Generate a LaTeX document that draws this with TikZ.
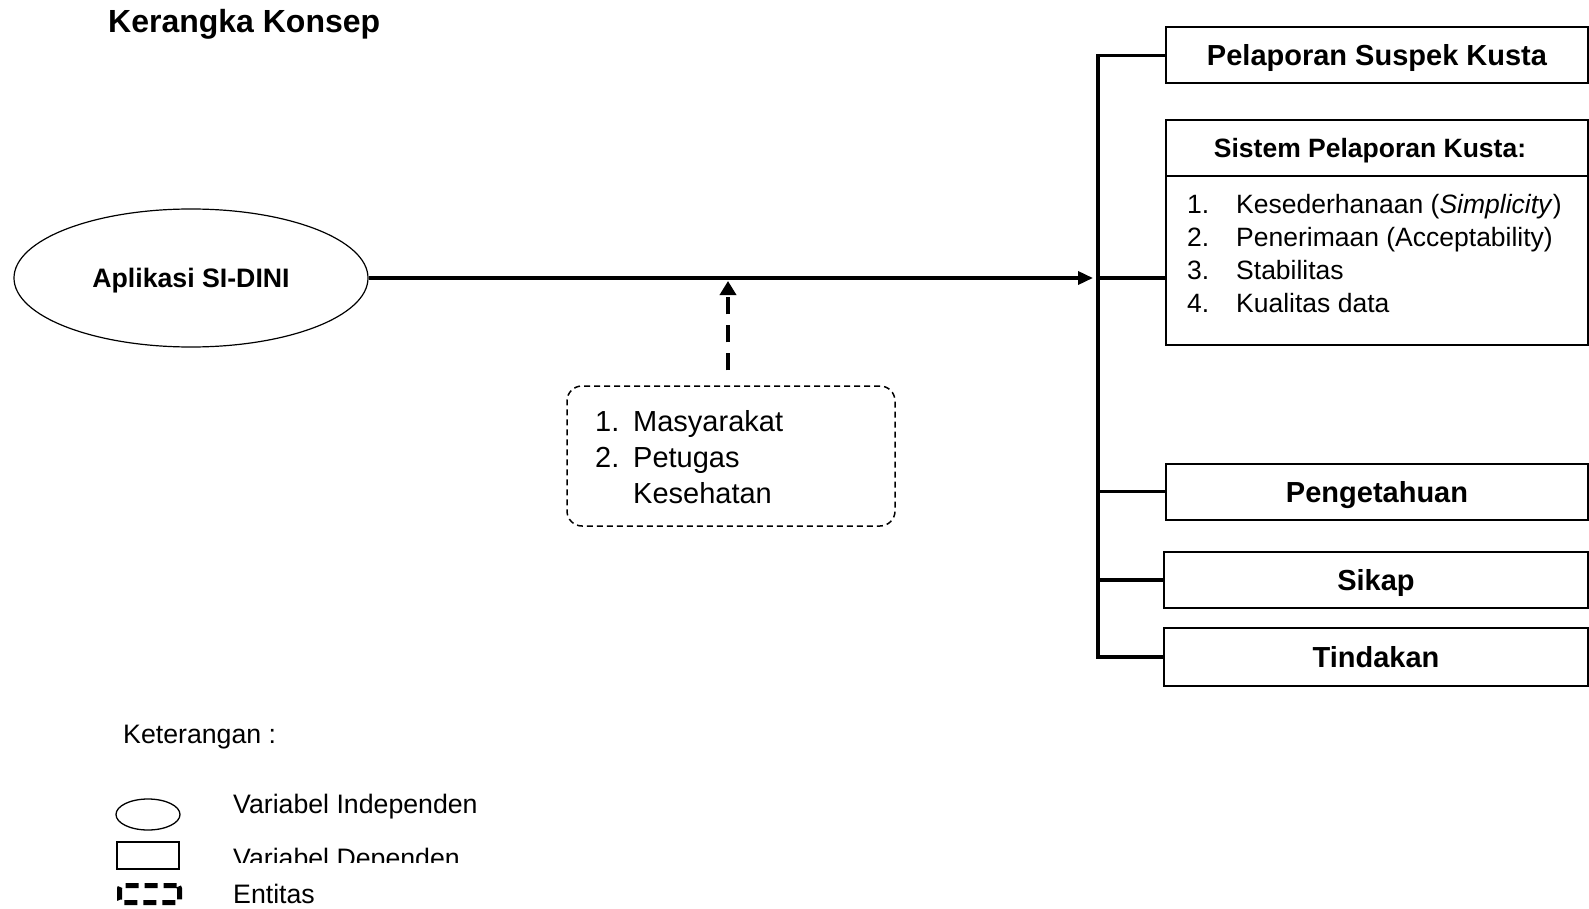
\documentclass[tikz,border=0pt]{standalone}
\usepackage{fontspec}
\setmainfont{Liberation Sans}
\usetikzlibrary{arrows.meta,positioning,shapes.geometric}

\begin{document}
\begin{tikzpicture}[x=1pt,y=-1pt,
  garis/.style={line width=3.5pt},
  varbox/.style={draw, line width=2pt, inner sep=0pt, minimum width=422pt, minimum height=56pt,
    text height=21pt, text depth=0pt, font=\fontsize{29}{35}\selectfont\bfseries},
  teks/.style={inner sep=0pt, anchor=base west, font=\fontsize{26.7}{32}\selectfont}]
\useasboundingbox (0,0) rectangle (1589,909);
\node[teks, font=\fontsize{32}{38}\selectfont\bfseries] (judul) at (108,33) {Kerangka Konsep};

\node[ellipse, draw, line width=1.2pt, inner sep=0pt, minimum width=354pt, minimum height=138pt,
  text height=19pt, text depth=0pt, font=\fontsize{26.7}{32}\selectfont\bfseries] (app) at (191,278) {Aplikasi SI-DINI};

\node[varbox] (pelaporan) at (1377,55.5) {Pelaporan Suspek Kusta};
\node[varbox, text height=19pt, font=\fontsize{26.5}{32}\selectfont\bfseries] (sistem) at (1377,148) {Sistem Pelaporan Kusta:\hspace*{14pt}};
\node[varbox, minimum height=169pt] (kriteria) at (1377,260.5) {};
\foreach \nomor/\isi [count=\i from 0] in {1./{Kesederhanaan (\textit{Simplicity})}, 2./{Penerimaan (Acceptability)}, 3./Stabilitas, 4./{Kualitas data}} {
  \node[teks, font=\fontsize{26.5}{32}\selectfont] (no\i) at (1187,214+32.7*\i) {\nomor};
  \node[teks, font=\fontsize{26.5}{32}\selectfont] (isi\i) at (1236,214+32.7*\i) {\isi};
}
\node[varbox] (pengetahuan) at (1377,491.5) {Pengetahuan};
\node[varbox, minimum width=424pt] (sikap) at (1376,580) {Sikap};
\node[varbox, minimum width=424pt, minimum height=58pt] (tindakan) at (1376,657) {Tindakan};

% garis pembagi
\coordinate (masuk) at (1098,278);
\draw[garis] (pelaporan.west) -| (tindakan.west -| masuk) -- (tindakan.west);
\draw[garis] (masuk) -- (masuk -| kriteria.west);
\draw[garis] (pengetahuan.west -| masuk) -- (pengetahuan.west);
\draw[garis] (sikap.west -| masuk) -- (sikap.west);
\draw[garis, -{Triangle[length=15pt,width=13pt]}] (app.east) -- ([xshift=-5pt]masuk);

\node[draw, dash pattern=on 6pt off 4pt, line width=1.5pt, rounded corners=15pt, minimum width=328pt,
  minimum height=140pt, inner sep=0pt] (entitas) at (731,456) {};
\foreach \nomor/\isi [count=\i from 0] in {1./Masyarakat, 2./Petugas, /Kesehatan} {
  \node[teks, font=\fontsize{29}{36}\selectfont] (nomor\i) at (595,431+36*\i) {\nomor};
  \node[teks, font=\fontsize{29}{36}\selectfont] (anggota\i) at (633,431+36*\i) {\isi};
}
\coordinate (ujung) at (728,281);
\draw[line width=4pt, dash pattern=on 17pt off 11pt, -{Triangle[length=14pt,width=16pt]}] ([xshift=-3pt,yshift=15pt]entitas.north) -- (ujung);

% keterangan
\node[teks] (ket) at (123,743) {Keterangan :};
\node[ellipse, draw, line width=1.3pt, minimum width=64pt, minimum height=31pt, inner sep=0pt] (simbolindep) at (148,814.5) {};
\node[teks] (ketindep) at (233,813) {Variabel Independen};
\node[draw, line width=1.3pt, minimum width=62pt, minimum height=27pt, inner sep=0pt] (simboldep) at (148,855.5) {};
\begin{scope}
  \clip (220,835) rectangle (520,862);
  \node[teks] (ketdep) at (233,867) {Variabel Dependen};
\end{scope}
\node[draw, line width=5pt, dash pattern=on 13pt off 6pt, rounded corners=3pt, minimum width=60pt,
  minimum height=17pt, inner sep=0pt] (simbolent) at (149.5,894) {};
\node[teks] (ketent) at (233,903) {Entitas};
\end{tikzpicture}
\end{document}
